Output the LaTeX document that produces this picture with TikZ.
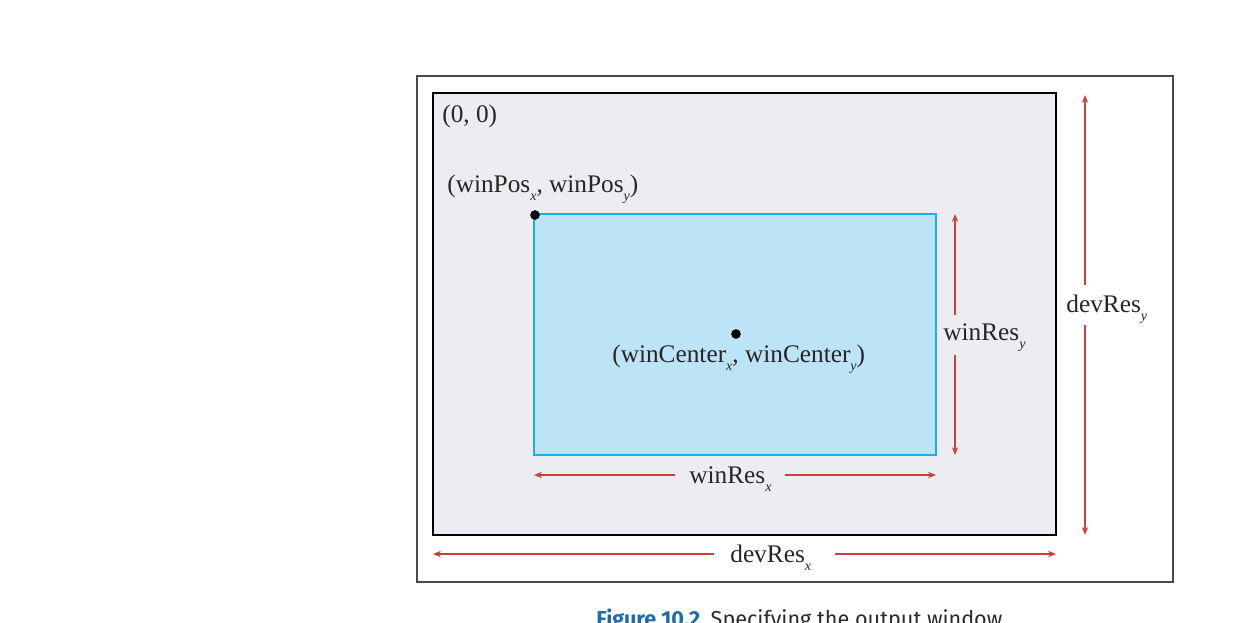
\documentclass[tikz,border=0pt]{standalone}
\usepackage{fontspec}
\setmainfont{Liberation Serif}
\newfontfamily\capfont{Fira Sans}
\usetikzlibrary{arrows.meta}
\definecolor{framegray}{HTML}{4A4A4A}
\definecolor{devfill}{HTML}{ECEDF0}
\definecolor{winblue}{HTML}{1AAFE6}
\definecolor{winfill}{HTML}{BCE3F6}
\definecolor{dimred}{HTML}{C8423B}
\definecolor{capblue}{HTML}{1F6AAE}
\definecolor{captext}{HTML}{2A2A2A}
\newcommand{\lowsub}[1]{\raisebox{-5pt}{\fontsize{8}{8}\selectfont\textit{#1}}}
\tikzset{
  lbl/.style={anchor=base west, inner sep=0pt, font=\fontsize{14.4}{17}\selectfont, text=black!85},
  dimarrow/.style={draw=dimred, line width=1.1pt, -{Stealth[length=4.5pt,width=3.6pt]}},
  dotmark/.style={circle, fill=black, inner sep=0pt, minimum size=5.5pt},
}
\begin{document}
\begin{tikzpicture}[x=0.02cm, y=-0.02cm]
\useasboundingbox (0,0) rectangle (1250,622);
% outer frame
\draw[framegray, line width=0.8pt, fill=white] (417,76) rectangle (1173,582);
% device rectangle
\draw[black, line width=1.6pt, fill=devfill] (433,93) rectangle (1056,535);
% window rectangle
\draw[winblue, line width=1.4pt, fill=winfill] (534,214) rectangle (936,455);
% dots
\node[dotmark] (pos) at (535,215) {};
\node[dotmark] (ctr) at (736,334) {};
% labels
\node[lbl] (origin) at (442,122) {(0, 0)};
\node[lbl] (poslbl) at (447,192) {(winPos\lowsub{x}, winPos\lowsub{y})};
\node[lbl] (ctrlbl) at (612,362) {(winCenter\lowsub{x}, winCenter\lowsub{y})};
\node[lbl] (wry) at (943,340) {winRes\lowsub{y}};
\node[lbl] (dry) at (1066,312) {devRes\lowsub{y}};
\node[lbl] (wrx) at (689,483) {winRes\lowsub{x}};
\node[lbl] (drx) at (730,562) {devRes\lowsub{x}};
% arrow coordinates
\coordinate (wrxL0) at (675,475); \coordinate (wrxL1) at (534,475);
\coordinate (wrxR0) at (785,475); \coordinate (wrxR1) at (936,475);
\coordinate (drxL0) at (714,554); \coordinate (drxL1) at (433,554);
\coordinate (drxR0) at (835,554); \coordinate (drxR1) at (1056,554);
\coordinate (wryT0) at (955,315); \coordinate (wryT1) at (955,214);
\coordinate (wryB0) at (955,355); \coordinate (wryB1) at (955,455);
\coordinate (dryT0) at (1085,285); \coordinate (dryT1) at (1085,95);
\coordinate (dryB0) at (1085,325); \coordinate (dryB1) at (1085,535);
\draw[dimarrow] (wrxL0) -- (wrxL1);
\draw[dimarrow] (wrxR0) -- (wrxR1);
\draw[dimarrow] (drxL0) -- (drxL1);
\draw[dimarrow] (drxR0) -- (drxR1);
\draw[dimarrow] (wryT0) -- (wryT1);
\draw[dimarrow] (wryB0) -- (wryB1);
\draw[dimarrow] (dryT0) -- (dryT1);
\draw[dimarrow] (dryB0) -- (dryB1);
% caption (cut by the lower edge, as in the reference)
\node[anchor=base west, inner sep=0pt, font=\capfont\fontsize{12.3}{14}\selectfont] (cap) at (596,626)
  {\textcolor{capblue}{\bfseries Figure 10.2}\hspace{6pt}\textcolor{captext}{Specifying the output window}};
\end{tikzpicture}
\end{document}
